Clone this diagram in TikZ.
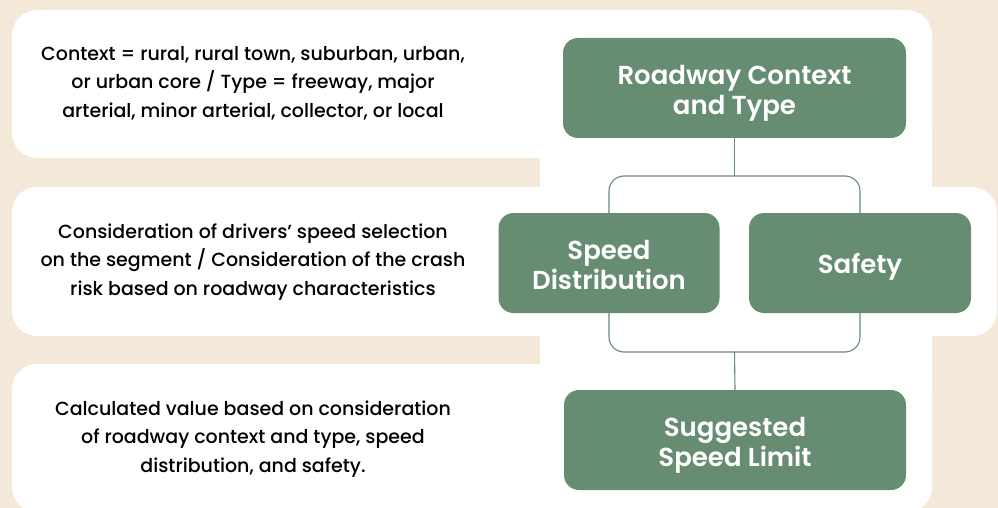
\documentclass[tikz,border=0pt]{standalone}
\usepackage{fontspec}
\setmainfont{Poppins}
\newfontfamily\notefont{Poppins Medium}
\newfontfamily\boxfont{Poppins SemiBold}
\definecolor{sand}{HTML}{F4E8D8}
\definecolor{sage}{HTML}{668D71}
\begin{document}
\begin{tikzpicture}[x=1pt, y=-1pt, line join=round,
    panel/.style={fill=white, rounded corners=25pt},
    box/.style={fill=sage, rounded corners=15pt, text=white, align=center, text depth=0pt, minimum height=100pt, font=\boxfont\fontsize{26}{30}\selectfont},
    twoline/.style={text height=53pt},
    note/.style={align=center, text=black, text depth=0pt, font=\notefont\fontsize{19}{28.5}\selectfont},
    link/.style={draw=sage, line width=1.1pt, rounded corners=15pt}]
    \useasboundingbox (0, 0) rectangle (998, 508);
    \fill[sand] (0, 0) rectangle (998, 508);
    % white panels
    \fill[panel] (12, 10) rectangle (932, 158);
    \fill[panel] (12, 187) rectangle (997, 336);
    \fill[panel] (12, 364) rectangle (932, 512);
    \fill[white] (540, 40) rectangle (932, 480);
    % texts on the left
    \node[note] (ctxtext) at (253, 81.5) {Context = rural, rural town, suburban, urban,\\or urban core / Type = freeway, major\\arterial, minor arterial, collector, or local};
    \node[note] (segtext) at (253, 259.5) {Consideration of drivers’ speed selection\\on the segment / Consideration of the crash\\risk based on roadway characteristics};
    \node[note] (calctext) at (253, 436.5) {Calculated value based on consideration\\of roadway context and type, speed\\distribution, and safety.};
    % boxes
    \node[box, twoline, minimum width=343pt] (roadway) at (734.5, 88) {Roadway Context\\and Type};
    \node[box, twoline, minimum width=221pt] (speed) at (609, 263) {Speed\\Distribution};
    \node[box, minimum width=222pt] (safety) at (860, 263) {Safety};
    \node[box, twoline, minimum width=342pt] (suggested) at (735, 440) {Suggested\\Speed Limit};
    \coordinate (split) at (734.5, 176);
    \coordinate (merge) at (734.5, 352);
    % connectors
    \draw[link] (roadway.south) -- (split);
    \draw[link] (speed.north) |- (split) -| (safety.north);
    \draw[link] (speed.south) |- (merge) -| (safety.south);
    \draw[link] (merge) -- (suggested.north);
\end{tikzpicture}
\end{document}
